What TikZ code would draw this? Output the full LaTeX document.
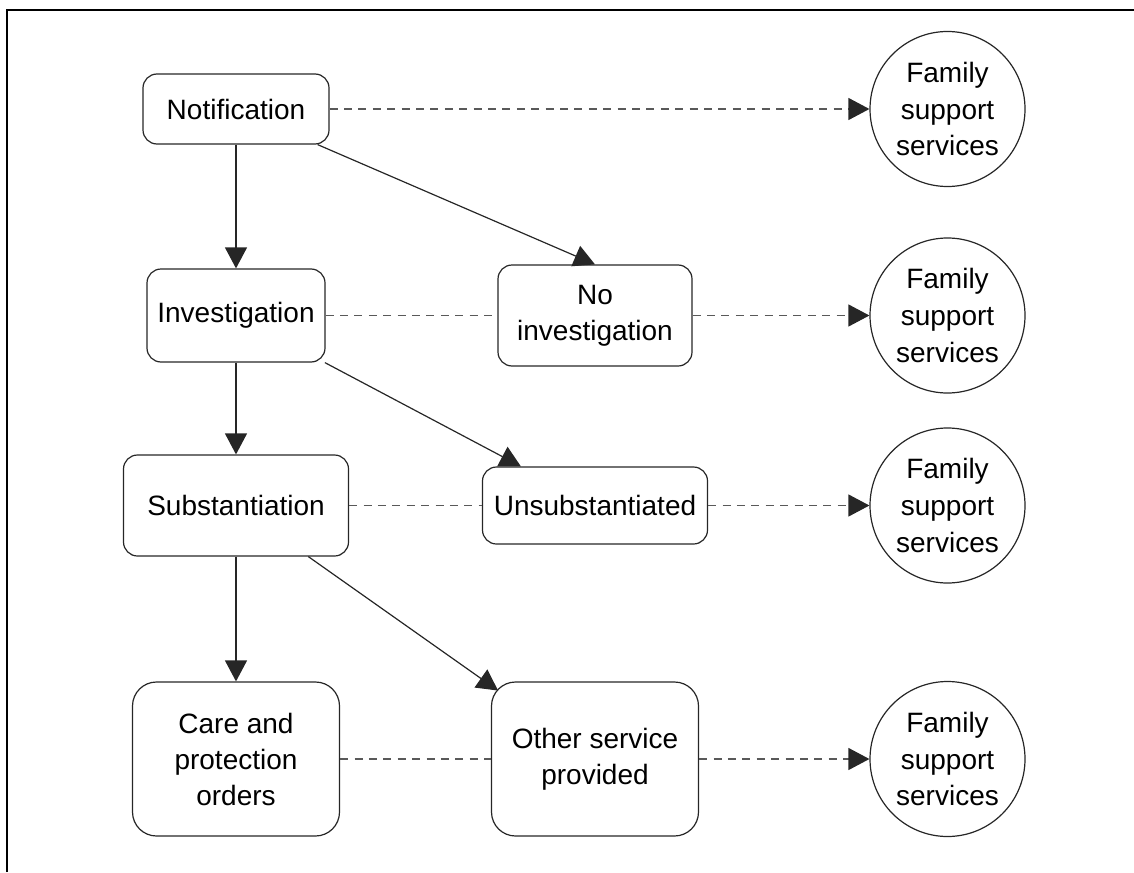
\documentclass[tikz,border=0pt]{standalone}
\usepackage{fontspec}
\setmainfont{Liberation Sans}
\usetikzlibrary{arrows.meta,calc}
\tikzset{stage/.style={draw=black!85, line width=0.6pt, rounded corners=7pt, align=center, font=\fontsize{14}{18}\selectfont},
         bigstage/.style={stage, rounded corners=12pt, minimum width=103.5pt, minimum height=77pt},
         service/.style={circle, draw=black!85, line width=0.6pt, minimum size=77.5pt, inner sep=0pt, align=center, font=\fontsize{14}{18.3}\selectfont},
         line/.style={-{Triangle[length=10.5pt,width=11pt]}, draw=black!85, line width=0.6pt},
         link/.style={dash pattern=on 4pt off 3.2pt, draw=black!65, line width=0.6pt},
         linkto/.style={link, -{Triangle[length=10.5pt,width=11pt,black!85]}}}
\def\coldist{359}
\def\circdist{711.5}

\begin{document}
\begin{tikzpicture}[x=0.5pt,y=-0.5pt]
\useasboundingbox (0,0) rectangle (1134,872);
\draw [line width=1.25pt] (7,872) -- (7,10) -- (1134,10);

\node (notif) [stage, minimum width=93pt, minimum height=35pt] at (236,109) {Notification};
\path (notif)+(0,206.5) node (inv) [stage, minimum width=89pt, minimum height=46.5pt] {Investigation};
\path (inv)+(\coldist,0) node (noinv) [stage, minimum width=97pt, minimum height=50.5pt] {No\\investigation};
\path (inv)+(0,190) node (subst) [stage, minimum width=112.5pt, minimum height=50.5pt] {Substantiation};
\path (subst)+(\coldist,0) node (unsub) [stage, minimum width=112.5pt, minimum height=38.5pt] {Unsubstantiated};
\path (subst)+(0,253.5) node (care) [bigstage] {Care and\\protection\\orders};
\path (care)+(\coldist,0) node (other) [bigstage] {Other service\\provided};

% Family support services on the right
\path (notif)+(\circdist,0) node (svca) [service] {Family\\support\\services};
\path (inv)+(\circdist,0) node (svcb) [service] {Family\\support\\services};
\path (subst)+(\circdist,0) node (svcc) [service] {Family\\support\\services};
\path (care)+(\circdist,0) node (svcd) [service] {Family\\support\\services};

% Draw connections between nodes
\draw [line] (notif) -- (inv);
\draw [line] ([xshift=-6pt]notif.south east) -- (noinv.north);
\draw [line] (inv) -- (subst);
\draw [line] (inv) -- ([xshift=19.5pt]unsub.north west);
\draw [line] (subst) -- (care);
\draw [line] (subst) -- ($(subst)!0.73!(other)$);

% Dashed links to the services
\draw [linkto] (notif) -- (svca);
\draw [link] (inv) -- (noinv);
\draw [linkto] (noinv) -- (svcb);
\draw [link] (subst) -- (unsub);
\draw [linkto] (unsub) -- (svcc);
\draw [link] (care) -- (other);
\draw [linkto] (other) -- (svcd);
\end{tikzpicture}
\end{document}
